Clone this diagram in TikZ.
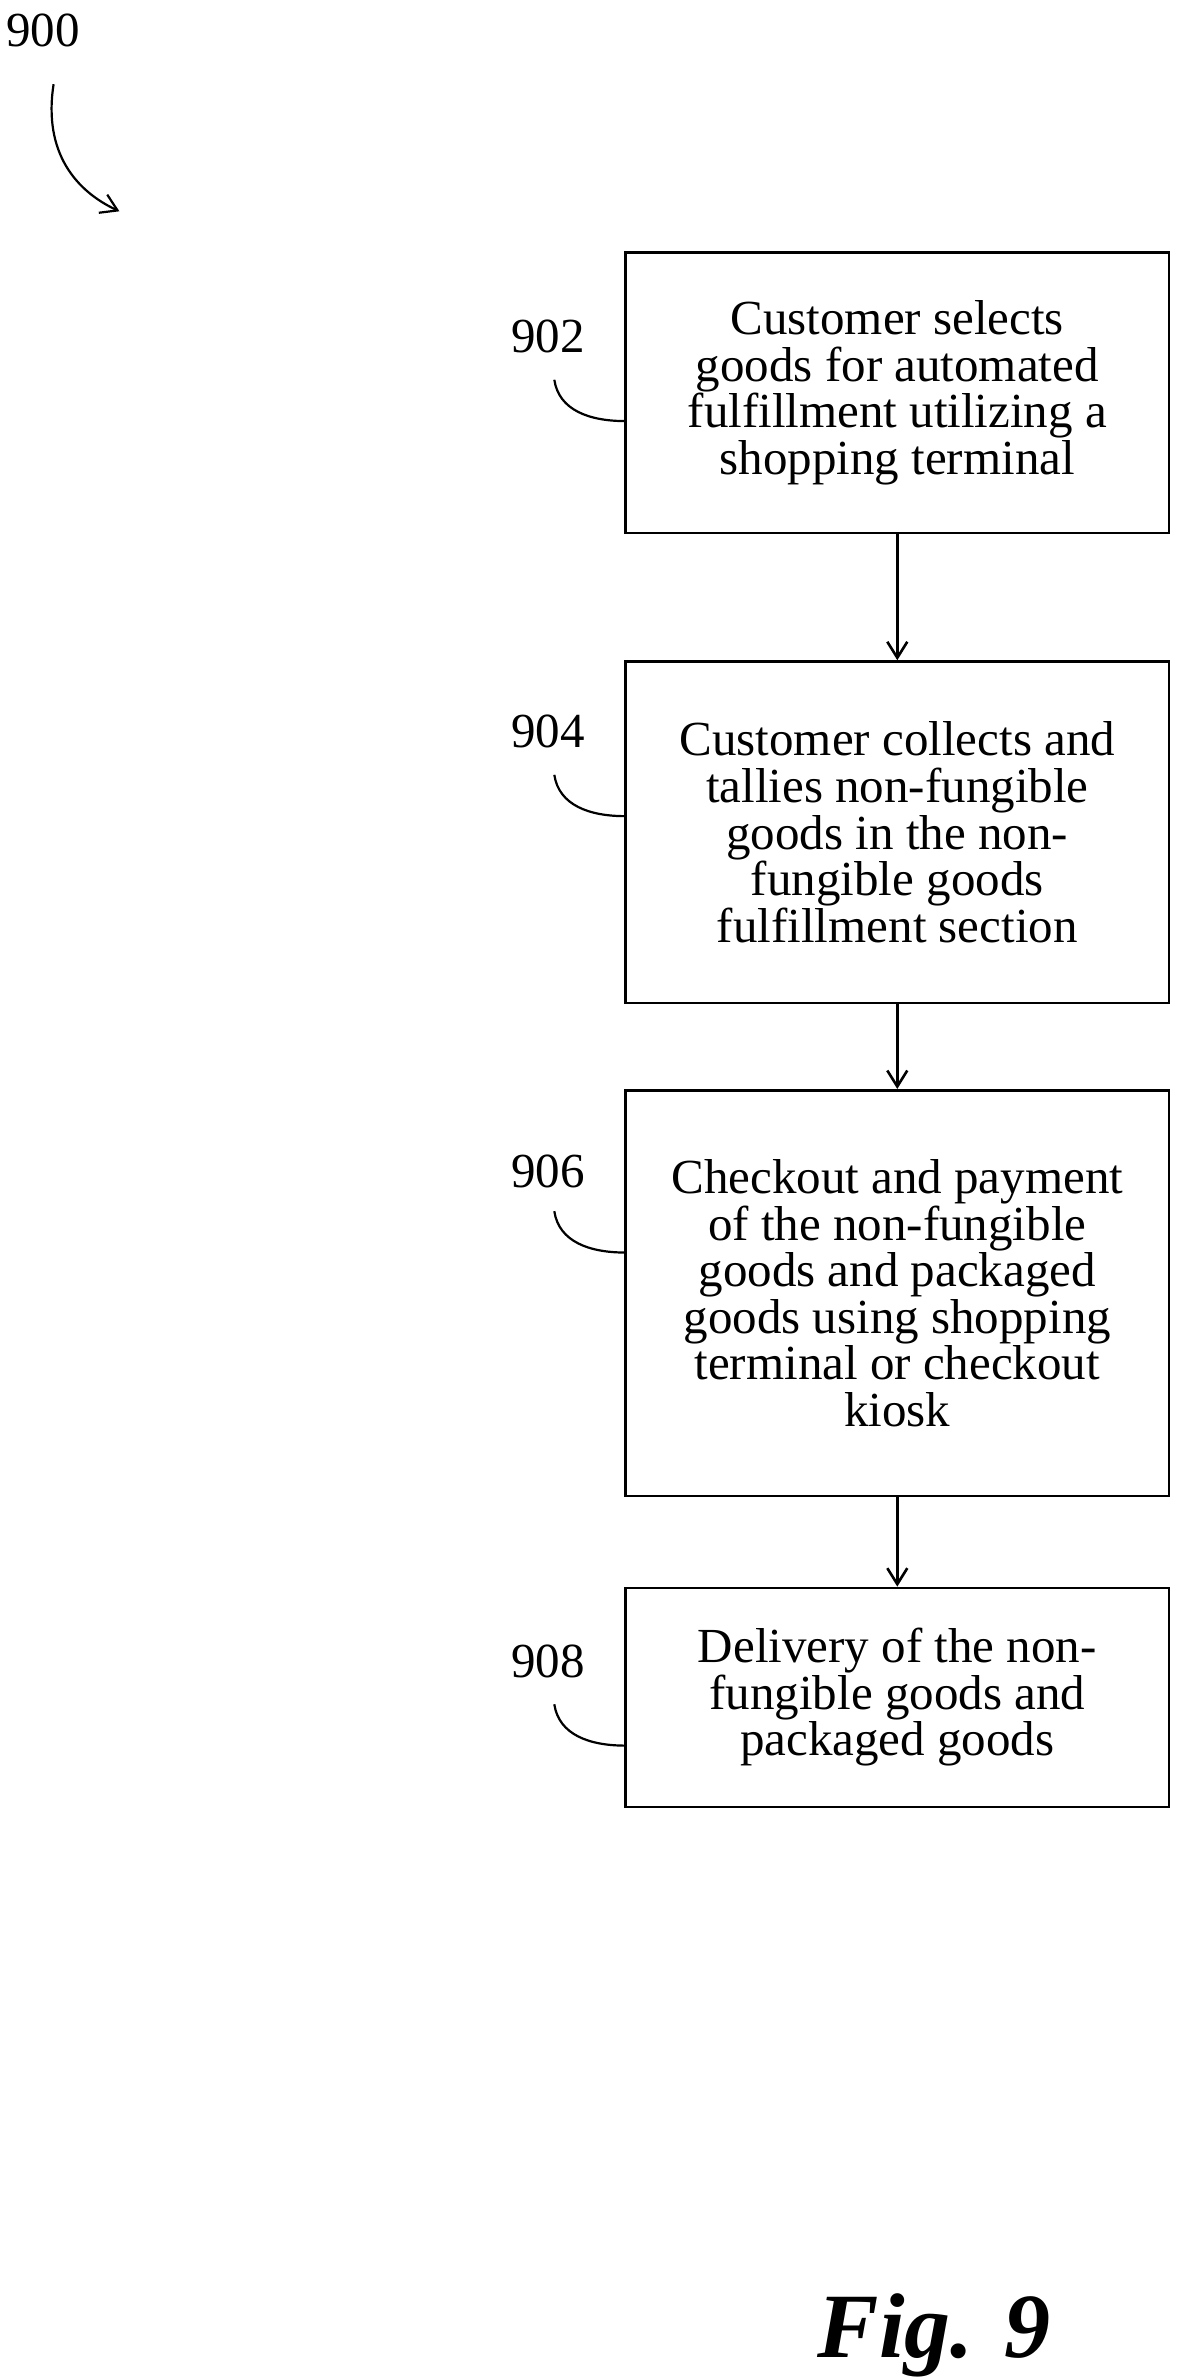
\documentclass[tikz,border=0pt]{standalone}
\usepackage{fontspec}
\setmainfont{Liberation Serif}
\usetikzlibrary{arrows.meta}
\begin{document}
\begin{tikzpicture}[x=0.7656pt,y=-0.7656pt,
  box/.style={draw,line width=1.3pt,minimum width=355*0.7656pt,align=center,inner sep=0pt,font=\fontsize{24.5}{23.3}\selectfont},
  lab/.style={font=\fontsize{24.5}{24}\selectfont},
  arr/.style={line width=1.3pt,-{Straight Barb[length=8pt,width=10pt]}},
  lead/.style={line width=1.1pt}]
\useasboundingbox (0,0) rectangle (770,1553);
\node[box,minimum height=183*0.7656pt] (b1) at (586,256.5) {Customer selects\\goods for automated\\fulfillment utilizing a\\shopping terminal};
\node[box,minimum height=223*0.7656pt] (b2) at (586,543.5) {Customer collects and\\tallies non-fungible\\goods in the non-\\fungible goods\\fulfillment section};
\node[box,minimum height=265*0.7656pt] (b3) at (586,844.5) {Checkout and payment\\of the non-fungible\\goods and packaged\\goods using shopping\\terminal or checkout\\kiosk};
\node[box,minimum height=143*0.7656pt] (b4) at (586,1108.5) {Delivery of the non-\\fungible goods and\\packaged goods};
\draw[arr] (b1) -- (b2);
\draw[arr] (b2) -- (b3);
\draw[arr] (b3) -- (b4);
\node[lab] (l902) at (358,220) {902};
\node[lab] (l904) at (358,478) {904};
\node[lab] (l906) at (358,765) {906};
\node[lab] (l908) at (358,1085) {908};
\coordinate (c2) at (408.5,275);
\coordinate (c4) at (408.5,533);
\coordinate (c6) at (408.5,818);
\coordinate (c8) at (408.5,1140);
\draw[lead] (362,248) .. controls (365,268) and (385,275) .. (c2);
\draw[lead] (362,506) .. controls (365,526) and (385,533) .. (c4);
\draw[lead] (362,791) .. controls (365,811) and (385,818) .. (c6);
\draw[lead] (362,1113) .. controls (365,1133) and (385,1140) .. (c8);
\node[lab] (l900) at (28,20) {900};
\coordinate (e900) at (78,138);
\draw[arr,line width=1.1pt] (35,55) .. controls (28,100) and (50,125) .. (e900);
\node[font=\bfseries\itshape\fontsize{46}{50}\selectfont] (fig) at (610,1525) {Fig. 9};
\end{tikzpicture}
\end{document}
